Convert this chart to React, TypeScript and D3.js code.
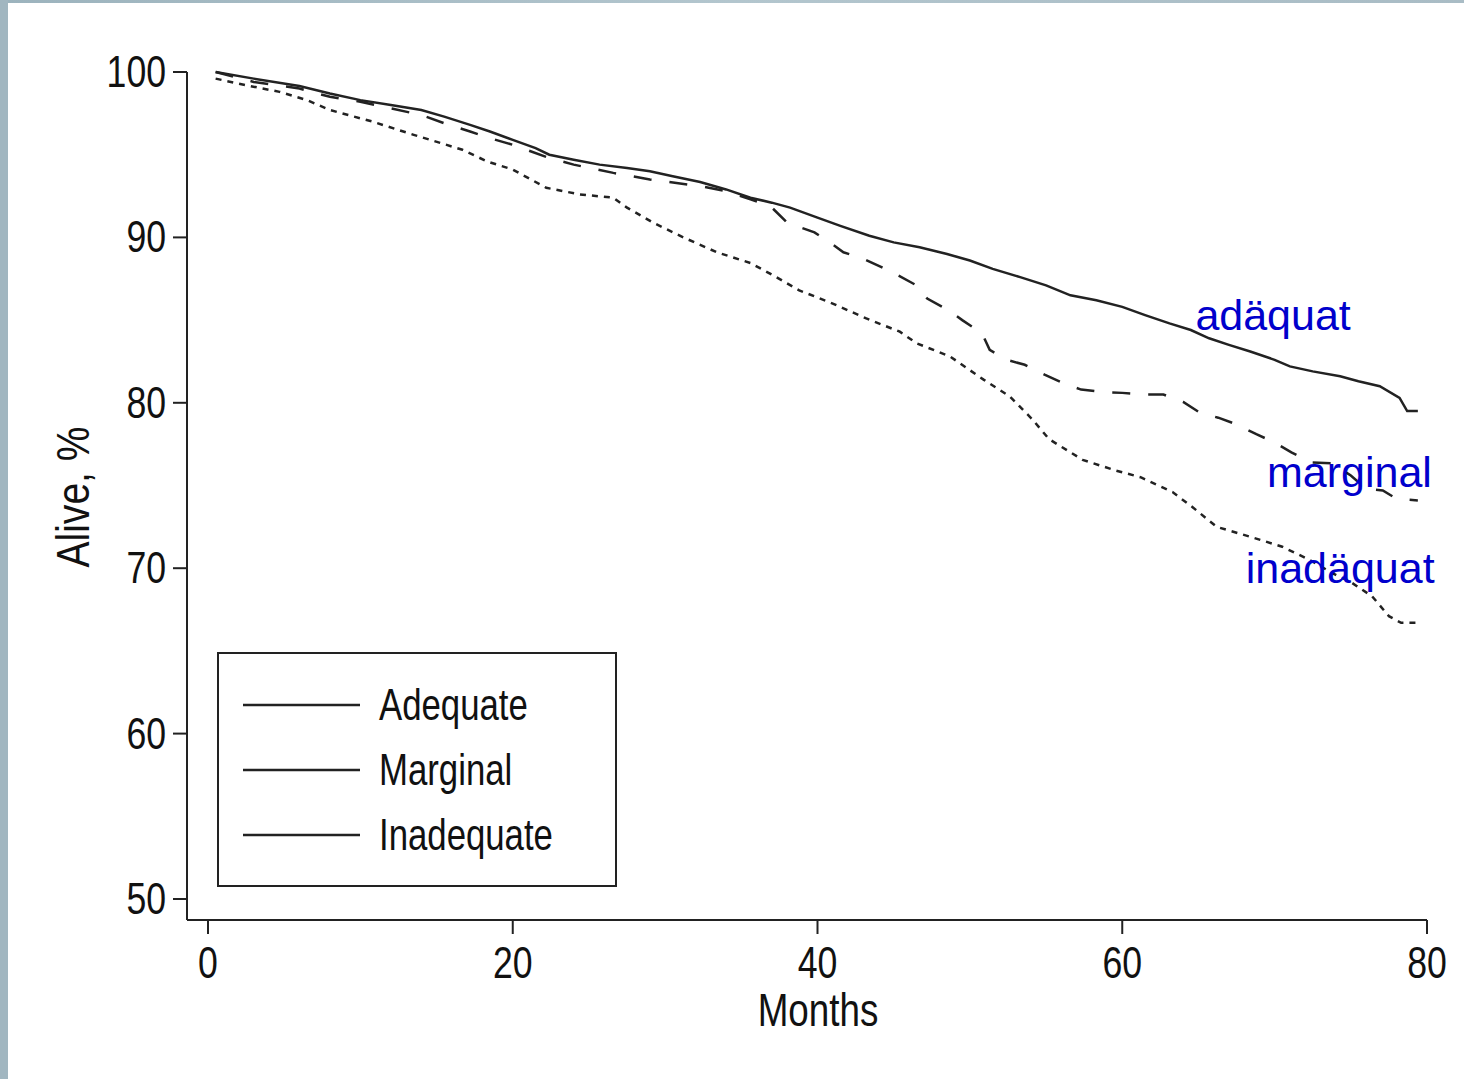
import React from "react";
import * as d3 from "d3";

const W = 1464;
const H = 1079;

// months / percent alive
const adequateMonths = [0.5, 3, 6, 8, 10, 12, 14, 15.5, 17.2, 18.5, 20, 21.5, 22.4, 24, 25.7, 27.5, 29, 30.5, 32.3, 34, 35.6, 37, 38.2, 40, 41.5, 43.4, 45, 46.7, 48.5, 50, 51.5, 53.3, 55, 56.6, 58.3, 60, 61.5, 63.1, 64.5, 65.7, 67, 68.4, 70, 71, 72.5, 74.3, 75.5, 76.9, 78.2, 78.7, 79.4];
const adequateValues = [100, 99.6, 99.15, 98.7, 98.3, 98, 97.7, 97.3, 96.8, 96.4, 95.9, 95.4, 95, 94.7, 94.4, 94.2, 94, 93.7, 93.35, 92.9, 92.4, 92.1, 91.8, 91.2, 90.7, 90.1, 89.7, 89.4, 89, 88.6, 88.1, 87.6, 87.1, 86.5, 86.2, 85.8, 85.3, 84.8, 84.4, 83.9, 83.5, 83.1, 82.6, 82.2, 81.9, 81.6, 81.3, 81, 80.3, 79.5, 79.5];

const marginalMonths = [0.5, 3, 6, 8, 10, 12, 14, 15.5, 17.2, 18.5, 20, 22.4, 24, 26.6, 29, 32.3, 34, 35.6, 36.9, 38, 39.8, 40.8, 41.7, 42.9, 44.2, 45.3, 46.5, 47.2, 48.6, 49.5, 50.8, 51.3, 52.4, 53.6, 54.9, 56.1, 57.3, 58.7, 60, 61.4, 62.7, 64, 65.1, 66.3, 67.5, 68.8, 70, 71.1, 72.4, 73.75, 75, 76, 77.1, 78, 79.4];
const marginalValues = [100, 99.4, 99, 98.5, 98.2, 97.8, 97.4, 96.9, 96.4, 96, 95.6, 94.8, 94.4, 93.9, 93.5, 93.1, 92.8, 92.3, 91.9, 90.9, 90.3, 89.7, 89.1, 88.75, 88.2, 87.7, 87.1, 86.3, 85.6, 85, 84.2, 83.2, 82.6, 82.3, 81.7, 81.2, 80.8, 80.65, 80.6, 80.5, 80.5, 80.05, 79.4, 79.1, 78.7, 78.1, 77.6, 77, 76.4, 76.35, 75.6, 74.8, 74.7, 74.2, 74.1];

const inadequateMonths = [0.5, 2.5, 4.7, 6.5, 8, 10.8, 13.5, 16.7, 18.3, 20, 22.2, 24.4, 26.6, 27.5, 29.2, 31.2, 33.4, 35.6, 37.3, 38.8, 41, 43.2, 45.4, 46.5, 48.7, 50.9, 52.6, 54.1, 55.2, 57.4, 59.6, 61.2, 63.3, 64.6, 66.2, 68.4, 70.5, 72.3, 73.8, 75.1, 76.4, 77.5, 78.3, 79.3];
const inadequateValues = [99.6, 99.2, 98.8, 98.3, 97.7, 97, 96.2, 95.3, 94.6, 94.1, 93, 92.6, 92.4, 91.8, 90.9, 90, 89.1, 88.45, 87.6, 86.8, 86, 85.1, 84.3, 83.6, 82.8, 81.4, 80.4, 79, 77.8, 76.55, 75.9, 75.5, 74.6, 73.7, 72.5, 71.9, 71.3, 70.5, 69.7, 69.1, 68.3, 67.1, 66.7, 66.7];

const xTicks = [0, 20, 40, 60, 80];
const yTicks = [50, 60, 70, 80, 90, 100];

const legendLabels = ["Adequate", "Marginal", "Inadequate"];

// in-plot annotations: label, month, percent
const annoLabels = ["adäquat", "marginal", "inadäquat"];
const annoMonths = [64.8, 69.5, 68.1];
const annoValues = [84.4, 74.9, 69.1];

const series = [
  { months: adequateMonths, values: adequateValues, dash: null },
  { months: marginalMonths, values: marginalValues, dash: "18 18" },
  { months: inadequateMonths, values: inadequateValues, dash: "6 6" },
];

const SANS = "'Liberation Sans', Arial, sans-serif";
const INK = "#222";

// Helvetica-Narrow look: Liberation Sans squeezed horizontally
function Narrow({ x, y, size, anchor = "start", sx = 0.8, rotate = 0, children }: any) {
  return (
    <text
      transform={`translate(${x}, ${y}) rotate(${rotate}) scale(${sx}, 1)`}
      textAnchor={anchor}
      fontFamily={SANS}
      fontSize={size}
      fill="#111"
    >
      {children}
    </text>
  );
}

export default function App() {
  const x = d3.scaleLinear().domain([0, 80]).range([208, 1427]);
  const y = d3.scaleLinear().domain([50, 100]).range([899, 72]);

  const line = d3
    .line<[number, number]>()
    .x((d) => x(d[0]))
    .y((d) => y(d[1]))
    .curve(d3.curveLinear);

  const axisLeftX = x(0) - 21;
  const axisBottomY = y(50) + 21;

  return (
    <div style={{ position: "absolute", left: 0, top: 0 }}>
      <svg width={W} height={H} style={{ display: "block" }}>
        <defs>
          <linearGradient id="topband" x1="0" x2="1" y1="0" y2="0">
            <stop offset="0" stopColor="#9cb3bd" />
            <stop offset="0.5" stopColor="#b3c6ce" />
            <stop offset="1" stopColor="#a9bcc5" />
          </linearGradient>
        </defs>
        <rect width={W} height={H} fill="#fff" />
        <rect x={0} y={0} width={W} height={3} fill="url(#topband)" />
        <rect x={0} y={0} width={8} height={H} fill="#a1b6c0" />

        {/* axes */}
        <line x1={axisLeftX} x2={axisLeftX} y1={y(100)} y2={axisBottomY} stroke={INK} strokeWidth={2} />
        <line x1={axisLeftX} x2={x(80)} y1={axisBottomY} y2={axisBottomY} stroke={INK} strokeWidth={2} />
        {yTicks.map((t) => (
          <g key={"y" + t}>
            <line x1={axisLeftX - 14} x2={axisLeftX} y1={y(t)} y2={y(t)} stroke={INK} strokeWidth={2} />
            <Narrow x={axisLeftX - 21} y={y(t) + 15} size={44} anchor="end" sx={0.81}>
              {t}
            </Narrow>
          </g>
        ))}
        {xTicks.map((t) => (
          <g key={"x" + t}>
            <line x1={x(t)} x2={x(t)} y1={axisBottomY} y2={axisBottomY + 14} stroke={INK} strokeWidth={2} />
            <Narrow x={x(t)} y={978} size={44} anchor="middle" sx={0.81}>
              {t}
            </Narrow>
          </g>
        ))}
        <Narrow x={818} y={1026} size={46} anchor="middle" sx={0.8}>
          Months
        </Narrow>
        <Narrow x={89} y={497} size={46} anchor="middle" sx={0.85} rotate={-90}>
          Alive, %
        </Narrow>

        {/* survival curves */}
        {series.map((s, i) => (
          <path
            key={i}
            d={line(s.months.map((m, j) => [m, s.values[j]] as [number, number])) || ""}
            fill="none"
            stroke={INK}
            strokeWidth={2.5}
            strokeDasharray={s.dash || undefined}
          />
        ))}

        {/* legend */}
        <rect x={218} y={653} width={398} height={233} fill="none" stroke={INK} strokeWidth={2} />
        {legendLabels.map((l, i) => (
          <g key={l}>
            <line x1={243} x2={360} y1={705 + i * 65} y2={705 + i * 65} stroke={INK} strokeWidth={2.5} />
            <Narrow x={379} y={720 + i * 65} size={44} sx={0.79}>
              {l}
            </Narrow>
          </g>
        ))}

        {/* annotations */}
        {annoLabels.map((l, i) => (
          <text
            key={l}
            x={x(annoMonths[i])}
            y={y(annoValues[i])}
            fontFamily={SANS}
            fontSize={43}
            fill="#0000cc"
          >
            {l}
          </text>
        ))}
      </svg>
    </div>
  );
}
